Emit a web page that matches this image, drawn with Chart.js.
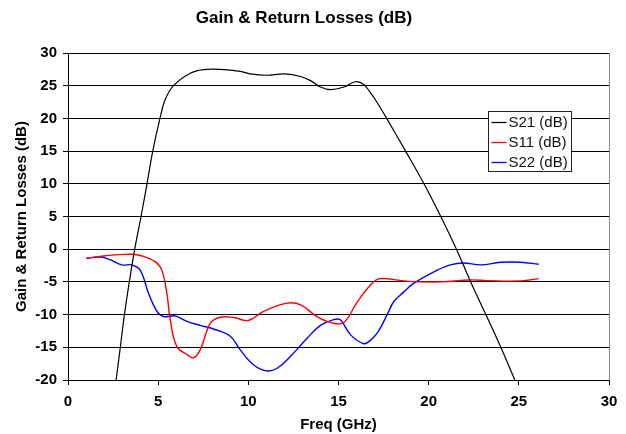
<!DOCTYPE html>
<html>
<head>
<meta charset="utf-8">
<script src="https://cdn.jsdelivr.net/npm/chart.js@4/dist/chart.umd.min.js"></script>
<style>
  html, body { margin: 0; padding: 0; background: #fff; }
  #wrap { width: 626px; height: 434px; }
</style>
</head>
<body>
<div id="wrap"><canvas id="lossChart" width="626" height="434"></canvas></div>
<script>
const chartTitle = "Gain & Return Losses (dB)";
const xTitle = "Freq (GHz)";
const yTitle = "Gain & Return Losses (dB)";

const s21Freq = [2.67, 2.9, 3.13, 3.4, 3.7, 4.05, 4.38, 4.7, 5.1, 5.38, 5.85, 6.78, 7.5, 8.44, 9.56, 10.1, 11.0, 12.0, 12.9, 13.5, 14.0, 14.56, 15.3, 15.94, 16.4, 16.78, 17.15, 17.67, 18.72, 19.74, 20.67, 21.54, 22.33, 23.17, 24.0, 24.78];
const s21Gain = [-20, -15, -10, -5, 0, 5, 10, 15, 20, 22.8, 25, 26.9, 27.45, 27.5, 27.2, 26.8, 26.6, 26.8, 26.4, 25.7, 24.8, 24.4, 24.8, 25.6, 25.2, 23.9, 22.4, 20, 15, 10, 5, 0, -5, -10, -15, -20];

const s11Freq = [1.0, 1.78, 2.6, 3.52, 4.07, 4.83, 5.2, 5.48, 5.67, 6.04, 6.6, 6.96, 7.33, 7.9, 8.44, 9.2, 10.0, 10.85, 12.15, 12.9, 13.8, 14.7, 15.3, 16.0, 16.8, 17.3, 18.6, 19.55, 20.67, 22.33, 23.26, 25.1, 26.1];
const s11Loss = [-1.4, -1.1, -0.87, -0.77, -1.0, -1.9, -3.2, -6.7, -10.8, -14.9, -16.1, -16.6, -15.4, -11.3, -10.4, -10.45, -10.9, -9.5, -8.25, -8.5, -10.3, -11.3, -11.2, -8.25, -5.4, -4.5, -4.85, -5.0, -5.0, -4.7, -4.8, -4.85, -4.5];

const s22Freq = [1.0, 1.78, 2.33, 2.98, 3.52, 4.0, 4.46, 4.93, 5.3, 5.94, 6.6, 7.33, 8.07, 9.0, 9.55, 10.3, 11.0, 11.6, 12.33, 13.26, 14.0, 14.7, 15.1, 15.67, 16.4, 16.78, 17.2, 17.7, 18.07, 18.6, 19.18, 20.48, 21.2, 21.9, 22.9, 24.0, 25.1, 26.1];
const s22Loss = [-1.4, -1.2, -1.6, -2.4, -2.4, -3.2, -6.7, -9.5, -10.3, -10.2, -11.05, -11.65, -12.2, -13.3, -15.4, -17.7, -18.6, -18.2, -16.4, -13.6, -11.65, -10.8, -10.8, -13.1, -14.45, -13.9, -12.6, -10.0, -8.0, -6.6, -5.2, -3.2, -2.4, -2.1, -2.4, -2.0, -2.0, -2.3];

const xTicks = [0, 5, 10, 15, 20, 25, 30];
const yTicks = [-20, -15, -10, -5, 0, 5, 10, 15, 20, 25, 30];

const FONT = "'Liberation Sans', Arial, sans-serif";

function pairs(xs, ys) {
  return xs.map((x, i) => ({ x: x, y: ys[i] }));
}

function series(label, xs, ys, color, width) {
  return {
    label: label,
    data: pairs(xs, ys),
    borderColor: color,
    backgroundColor: color,
    borderWidth: width,
    pointRadius: 0,
    showLine: true,
    fill: false,
    tension: 0.4,
  };
}

// title drawn above the plot, legend box inside it
const titleBox = {
  id: "titleBox",
  afterDraw(chart) {
    const c = chart.ctx;
    c.save();
    c.fillStyle = "#000";
    c.font = "bold 17px " + FONT;
    c.textAlign = "center";
    c.textBaseline = "middle";
    c.fillText(chartTitle, 304, 18);
    c.restore();
  },
};

const boxLegend = {
  id: "boxLegend",
  afterDatasetsDraw(chart) {
    const c = chart.ctx;
    const left = 488.5, top = 111.5, w = 83, h = 60;
    c.save();
    c.fillStyle = "#fff";
    c.fillRect(left, top, w, h);
    c.strokeStyle = "#222";
    c.lineWidth = 1;
    c.strokeRect(left, top, w, h);
    c.font = "15px " + FONT;
    c.textBaseline = "middle";
    c.textAlign = "left";
    chart.data.datasets.forEach((ds, i) => {
      const y = top + 11 + i * 20;
      c.strokeStyle = ds.borderColor;
      c.lineWidth = 1.3;
      c.beginPath();
      c.moveTo(left + 3, y);
      c.lineTo(left + 18, y);
      c.stroke();
      c.fillStyle = "#111";
      c.fillText(ds.label, left + 20, y + 0.5);
    });
    c.restore();
  },
};

new Chart(document.getElementById("lossChart"), {
  type: "scatter",
  data: {
    datasets: [
      series("S21 (dB)", s21Freq, s21Gain, "#000000", 1.2),
      series("S11 (dB)", s11Freq, s11Loss, "#ff0000", 1.4),
      series("S22 (dB)", s22Freq, s22Loss, "#0000ff", 1.4),
    ],
  },
  options: {
    responsive: false,
    animation: false,
    devicePixelRatio: 1,
    layout: { padding: { top: 53, right: 17, left: 0, bottom: 0 } },
    plugins: {
      legend: { display: false },
      title: { display: false },
      tooltip: { enabled: false },
    },
    scales: {
      x: {
        type: "linear",
        min: 0,
        max: 30,
        afterFit: (s) => { s.height = 54; },
        afterBuildTicks: (s) => { s.ticks = xTicks.map((v) => ({ value: v })); },
        border: { color: "#000", width: 1 },
        grid: {
          color: (ctx) => (ctx.tick && ctx.tick.value === 30 ? "#888" : "rgba(0,0,0,0)"),
          tickColor: "#000",
          tickLength: 5,
          drawOnChartArea: true,
        },
        ticks: {
          color: "#000",
          padding: 8,
          font: { family: FONT, size: 15, weight: "bold", lineHeight: 1.2 },
          maxRotation: 0,
        },
        title: {
          display: true,
          text: xTitle,
          color: "#000",
          padding: { top: 0, bottom: 0 },
          font: { family: FONT, size: 15, weight: "bold", lineHeight: 1.2 },
        },
      },
      y: {
        min: -20,
        max: 30,
        afterFit: (s) => { s.width = 68; },
        afterBuildTicks: (s) => { s.ticks = yTicks.map((v) => ({ value: v })); },
        border: { color: "#000", width: 1 },
        grid: { color: "#000", tickColor: "#000", tickLength: 5 },
        ticks: {
          color: "#000",
          padding: 6,
          font: { family: FONT, size: 15, weight: "bold", lineHeight: 1.2 },
        },
        title: {
          display: true,
          text: yTitle,
          color: "#000",
          padding: { top: 13, bottom: 0 },
          font: { family: FONT, size: 15, weight: "bold", lineHeight: 1.2 },
        },
      },
    },
  },
  plugins: [titleBox, boxLegend],
});
</script>
</body>
</html>
